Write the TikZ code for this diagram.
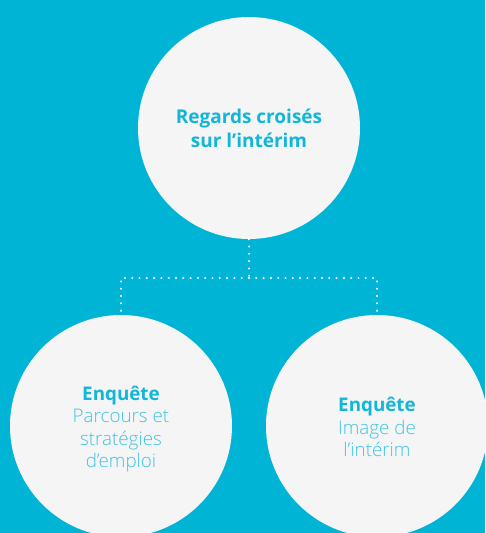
\documentclass[tikz,border=0pt]{standalone}
\usepackage{fontspec}
\setmainfont{Open Sans}
\newfontfamily\lightfont{Open Sans Light}
\begin{document}
\begin{tikzpicture}[x=1pt,y=-1pt,
  bubble/.style={circle,fill=circfill,minimum size=222pt,inner sep=0pt,align=center,text=headcol},
  topfont/.style={font=\fontsize{19}{24}\selectfont\bfseries},
  subfont/.style={font=\fontsize{18.8}{22.5}\selectfont\lightfont,text=lightcol},
  link/.style={draw=white,line width=2.3pt,line cap=round,dash pattern=on 0pt off 7.3pt}]
\definecolor{bgcol}{HTML}{00B4D6}
\definecolor{circfill}{HTML}{F5F5F5}
\definecolor{headcol}{HTML}{12B6D9}
\definecolor{lightcol}{HTML}{40C4E2}
\fill[bgcol] (0,0) rectangle (485,533);
\useasboundingbox (0,0) rectangle (485,533);
\node[bubble,topfont] (top) at (249,128) {Regards croisés\\sur l’intérim};
\node[bubble] (left) at (121,426) {};
\node[subfont,align=center] (lefttext) at (121,429) {{\color{headcol}\rmfamily\bfseries Enquête}\\Parcours et\\stratégies\\d’emploi};
\node[bubble] (right) at (377,426) {};
\node[subfont,align=center] (righttext) at (377,427) {{\color{headcol}\rmfamily\bfseries Enquête}\\Image de\\l’intérim};
\coordinate (mid) at (249,278);
\draw[link] (top.south) -- (mid);
\draw[link] (mid) -| (left.north);
\draw[link] (mid) -| (right.north);
\end{tikzpicture}
\end{document}
